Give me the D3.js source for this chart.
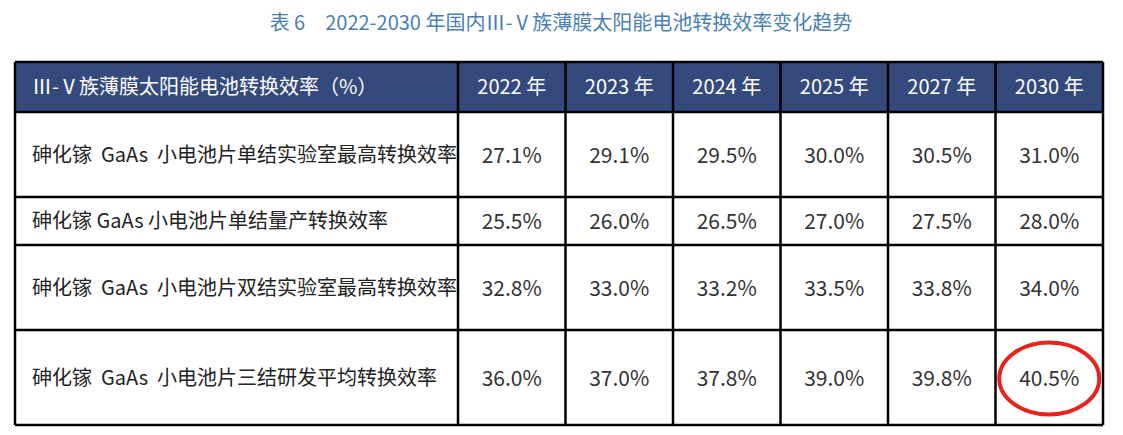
<!DOCTYPE html><html><head><meta charset="utf-8"><script src="https://cdn.jsdelivr.net/npm/d3@7"></script>
<style>body{margin:0;background:#fff}</style></head><body><svg id="c" width="1123" height="435"></svg>
<script>
const title="表 6　2022-2030 年国内Ⅲ-Ⅴ族薄膜太阳能电池转换效率变化趋势";
const headerLabel="Ⅲ-Ⅴ族薄膜太阳能电池转换效率（%）";
const years=["2022 年","2023 年","2024 年","2025 年","2027 年","2030 年"];
const rowLabels=["砷化镓  GaAs  小电池片单结实验室最高转换效率","砷化镓 GaAs 小电池片单结量产转换效率","砷化镓  GaAs  小电池片双结实验室最高转换效率","砷化镓  GaAs  小电池片三结研发平均转换效率"];
const values=[
["27.1%","29.1%","29.5%","30.0%","30.5%","31.0%"],
["25.5%","26.0%","26.5%","27.0%","27.5%","28.0%"],
["32.8%","33.0%","33.2%","33.5%","33.8%","34.0%"],
["36.0%","37.0%","37.8%","39.0%","39.8%","40.5%"]];
const rowHeights=[85,48,85,95];
(function(){
const svg=d3.select("#c");const font="'Noto Sans CJK SC','Noto Sans',sans-serif";
svg.append("text").attr("x",561).attr("y",30).attr("text-anchor","middle").attr("font-family",font).attr("font-size",20).attr("fill","#4a7fb5").text(title);
const x0=15,x1=458,xR=1103,tableTop=62,hh=50;
const x=d3.scaleBand().domain(years).range([x1,xR]);
const ys=[tableTop+hh];rowHeights.forEach(h=>ys.push(ys[ys.length-1]+h));
svg.append("rect").attr("x",x0).attr("y",tableTop).attr("width",xR-x0).attr("height",hh).attr("fill","#344a7d");
svg.append("text").attr("x",32).attr("y",tableTop+hh/2+7).attr("font-family",font).attr("font-size",20).attr("fill","#fff").text(headerLabel);
years.forEach(yv=>svg.append("text").attr("x",x(yv)+x.bandwidth()/2).attr("y",tableTop+hh/2+7).attr("text-anchor","middle").attr("font-family",font).attr("font-size",20).attr("fill","#fff").text(yv));
rowLabels.forEach((lab,i)=>{
  const yTop=ys[i],h=rowHeights[i];
  const t=svg.append("text").attr("font-family",font).attr("font-size",20).attr("fill","#222");
  const lines=[];let cur="";
  const probe=svg.append("text").attr("font-family",font).attr("font-size",20);
  for(const ch of lab){probe.text(cur+ch);if(probe.node().getComputedTextLength()>418&&cur){lines.push(cur);cur=ch;}else cur+=ch;}
  lines.push(cur);probe.remove();
  const lh=38,start=yTop+h/2-(lines.length-1)*lh/2+7;
  lines.forEach((l,j)=>t.append("tspan").attr("x",32).attr("y",start+j*lh).attr("xml:space","preserve").text(l));
  values[i].forEach((v,k)=>svg.append("text").attr("x",x(years[k])+x.bandwidth()/2).attr("y",yTop+h/2+8).attr("text-anchor","middle").attr("font-family",font).attr("font-size",21).attr("fill","#333").text(v));
});
const g=svg.append("g").attr("stroke","#000").attr("stroke-width",2.5);
ys.forEach(y=>g.append("line").attr("x1",x0).attr("x2",xR).attr("y1",y).attr("y2",y));
g.append("line").attr("x1",x0).attr("x2",xR).attr("y1",tableTop).attr("y2",tableTop);
[x0,x1,...years.map(yv=>x(yv)+x.bandwidth())].forEach(xx=>g.append("line").attr("x1",xx).attr("x2",xx).attr("y1",tableTop).attr("y2",ys[ys.length-1]));
const last=years.length-1,ri=values.length-1;
svg.append("ellipse").attr("cx",x(years[last])+x.bandwidth()/2).attr("cy",ys[ri]+rowHeights[ri]/2+1).attr("rx",50).attr("ry",36).attr("fill","none").attr("stroke","#e8231c").attr("stroke-width",4);
})();
</script></body></html>
